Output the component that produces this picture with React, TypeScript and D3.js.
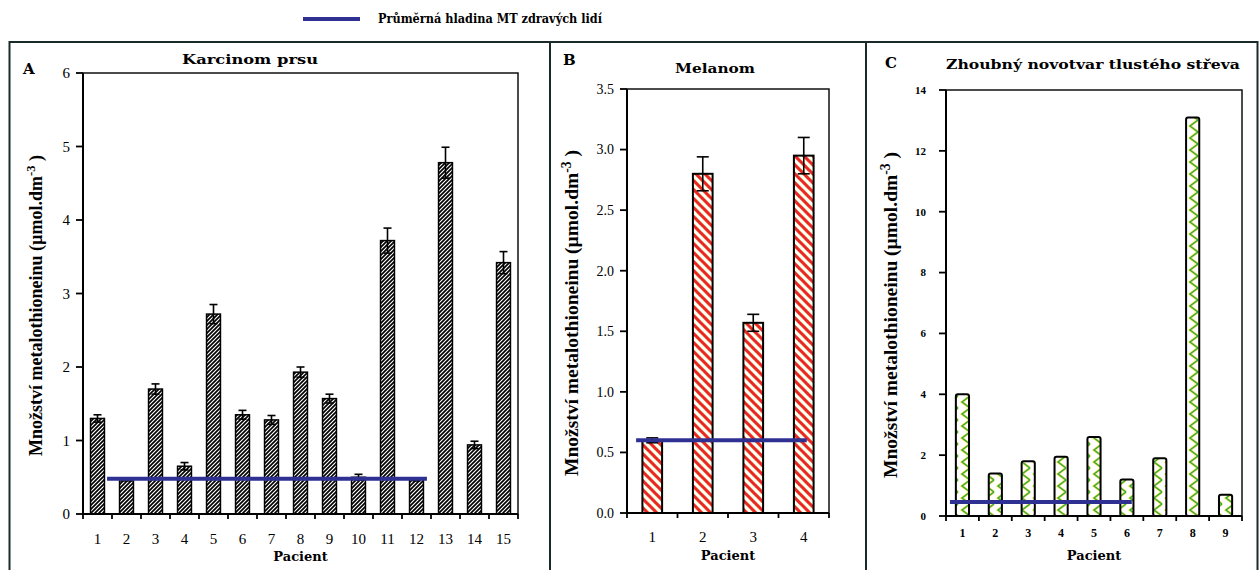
import * as d3 from "d3";

// Panel A – Karcinom prsu
const patientsA = ["1", "2", "3", "4", "5", "6", "7", "8", "9", "10", "11", "12", "13", "14", "15"];
const valuesA = [1.3, 0.45, 1.7, 0.65, 2.72, 1.35, 1.28, 1.93, 1.57, 0.5, 3.72, 0.47, 4.78, 0.94, 3.42];
const errorsA = [0.05, 0.0, 0.07, 0.05, 0.13, 0.06, 0.06, 0.07, 0.06, 0.04, 0.17, 0.02, 0.21, 0.05, 0.15];
const ticksA = [0, 1, 2, 3, 4, 5, 6];
const meanA = 0.48;

// Panel B – Melanom
const patientsB = ["1", "2", "3", "4"];
const valuesB = [0.6, 2.8, 1.57, 2.95];
const errorsB = [0.02, 0.14, 0.07, 0.15];
const ticksB = [0, 0.5, 1, 1.5, 2, 2.5, 3, 3.5];
const meanB = 0.6;

// Panel C – Zhoubný novotvar tlustého střeva
const patientsC = ["1", "2", "3", "4", "5", "6", "7", "8", "9"];
const valuesC = [4.0, 1.4, 1.8, 1.95, 2.6, 1.2, 1.9, 13.1, 0.7];
const ticksC = [0, 2, 4, 6, 8, 10, 12, 14];
const meanC = 0.46;

const SERIF = "'Liberation Serif', 'DejaVu Serif', serif";
const BOLD = "'DejaVu Serif', 'Liberation Serif', serif";
const MEAN_COLOR = "#2e3192";

type PanelProps = {
  letter: string;
  letterX: number;
  letterY: number;
  title: string;
  titleX: number;
  titleY: number;
  titleLen: number;
  cats: string[];
  values: number[];
  errors?: number[];
  ticks: number[];
  tickFmt: (v: number) => string;
  tickSize: number;
  tickGap: number;
  tickBold?: boolean;
  mean: number;
  meanSpan: [number, number];
  left: number;
  right: number;
  top: number;
  bottom: number;
  pad: number;
  fill: string;
  barStroke: number;
  rx: number;
  cap: number;
  labelX: number;
  labelSize: number;
  xLabelY: number;
  pacientY: number;
};

function Panel(p: PanelProps) {
  const x = d3
    .scaleBand()
    .domain(p.cats)
    .range([p.left, p.right])
    .paddingInner(p.pad)
    .paddingOuter(p.pad / 2);
  const y = d3
    .scaleLinear()
    .domain([0, p.ticks[p.ticks.length - 1]])
    .range([p.bottom, p.top]);
  const step = x.step();
  const bounds = d3.range(p.cats.length + 1).map((i) => p.left + i * step);
  const midY = (p.top + p.bottom) / 2 + 12;
  const cx = (p.left + p.right) / 2;

  return (
    <g>
      <text x={p.letterX} y={p.letterY} fontFamily={BOLD} fontWeight="bold" fontSize={15}>
        {p.letter}
      </text>
      <text
        x={p.titleX}
        y={p.titleY}
        textAnchor="middle"
        fontFamily={BOLD}
        fontWeight="bold"
        fontSize={13}
        textLength={p.titleLen}
        lengthAdjust="spacingAndGlyphs"
      >
        {p.title}
      </text>

      {/* plot frame */}
      <rect
        x={p.left}
        y={p.top}
        width={p.right - p.left}
        height={p.bottom - p.top}
        fill="none"
        stroke="#111"
        strokeWidth={1.5}
      />

      {/* bars */}
      {p.cats.map((c, i) => (
        <rect
          key={"b" + c}
          x={x(c)}
          y={y(p.values[i])}
          width={x.bandwidth()}
          height={p.bottom - y(p.values[i])}
          rx={p.rx}
          fill={p.fill}
          stroke="#000"
          strokeWidth={p.barStroke}
        />
      ))}

      {/* error bars */}
      {p.errors &&
        p.cats.map((c, i) => {
          const e = p.errors![i];
          if (!e) return null;
          const mx = (x(c) as number) + x.bandwidth() / 2;
          const y1 = y(p.values[i] + e);
          const y0 = y(p.values[i] - e);
          return (
            <g key={"e" + c} stroke="#000" strokeWidth={1.6}>
              <line x1={mx} x2={mx} y1={y1} y2={y0} />
              <line x1={mx - p.cap / 2} x2={mx + p.cap / 2} y1={y1} y2={y1} />
              <line x1={mx - p.cap / 2} x2={mx + p.cap / 2} y1={y0} y2={y0} />
            </g>
          );
        })}

      {/* axes */}
      <line x1={p.left} x2={p.left} y1={p.top} y2={p.bottom} stroke="#000" strokeWidth={2} />
      <line x1={p.left} x2={p.right} y1={p.bottom} y2={p.bottom} stroke="#000" strokeWidth={2} />
      {p.ticks.map((t) => (
        <g key={"t" + t}>
          <line x1={p.left - 7} x2={p.left} y1={y(t)} y2={y(t)} stroke="#000" strokeWidth={1.8} />
          <text
            x={p.left - p.tickGap}
            y={y(t)}
            dy="0.35em"
            textAnchor="end"
            fontFamily={SERIF}
            fontWeight={p.tickBold ? "bold" : "normal"}
            fontSize={p.tickSize}
          >
            {p.tickFmt(t)}
          </text>
        </g>
      ))}
      {bounds.map((b, i) => (
        <line key={"xt" + i} x1={b} x2={b} y1={p.bottom} y2={p.bottom + 5} stroke="#000" strokeWidth={1.8} />
      ))}
      {p.cats.map((c) => (
        <text
          key={"xl" + c}
          x={(x(c) as number) + x.bandwidth() / 2}
          y={p.xLabelY}
          textAnchor="middle"
          fontFamily={SERIF}
          fontWeight={p.tickBold ? "bold" : "normal"}
          fontSize={p.tickBold ? 12 : 15}
        >
          {c}
        </text>
      ))}

      {/* mean of healthy people */}
      <line
        x1={p.left + p.meanSpan[0] * step}
        x2={p.left + p.meanSpan[1] * step}
        y1={y(p.mean)}
        y2={y(p.mean)}
        stroke={MEAN_COLOR}
        strokeWidth={4}
      />

      <text x={cx} y={p.pacientY} textAnchor="middle" fontFamily={BOLD} fontWeight="bold" fontSize={13}>
        Pacient
      </text>
      <text
        transform={`translate(${p.labelX},${midY}) rotate(-90)`}
        textAnchor="middle"
        fontFamily={SERIF}
        fontWeight="bold"
        fontSize={p.labelSize}
      >
        Množství metalothioneinu (µmol.dm
        <tspan dy={-7} fontSize={p.labelSize * 0.7}>
          -3
        </tspan>
        <tspan dy={7}> )</tspan>
      </text>
    </g>
  );
}

export default function App() {
  return (
    <div style={{ position: "absolute", left: 0, top: 0, background: "#fff" }}>
      <svg width={1260} height={570} style={{ display: "block" }}>
        <defs>
          <pattern id="hatchA" patternUnits="userSpaceOnUse" width={4} height={4}>
            <rect width={4} height={4} fill="#fff" />
            <path d="M-1,1 l2,-2 M0,4 l4,-4 M3,5 l2,-2" stroke="#000" strokeWidth={1.7} />
          </pattern>
          <pattern id="hatchB" patternUnits="userSpaceOnUse" width={9} height={9}>
            <rect width={9} height={9} fill="#fff" />
            <path d="M-1,-1 l11,11 M-1,8 l2,2 M8,-1 l2,2" stroke="#f5e142" strokeWidth={4} opacity={0.6} />
            <path d="M-1,-1 l11,11 M-1,8 l2,2 M8,-1 l2,2" stroke="#e8262b" strokeWidth={3} />
          </pattern>
          <pattern id="zigC" patternUnits="userSpaceOnUse" width={12} height={12}>
            <rect width={12} height={12} fill="#fff" />
            <path d="M10,0 L2,6 L10,12" fill="none" stroke="#f3e23a" strokeWidth={2.6} />
            <path d="M10,0 L2,6 L10,12" fill="none" stroke="#2fa84a" strokeWidth={1.3} />
          </pattern>
        </defs>

        {/* legend */}
        <line x1={303} x2={360} y1={19} y2={19} stroke={MEAN_COLOR} strokeWidth={4} />
        <text
          x={378}
          y={23}
          fontFamily={BOLD}
          fontWeight="bold"
          fontSize={12}
          textLength={224}
          lengthAdjust="spacingAndGlyphs"
        >
          Průměrná hladina MT zdravých lidí
        </text>

        {/* frames */}
        <rect x={9.5} y={42} width={1248} height={540} fill="none" stroke="#1a2a2a" strokeWidth={2} />
        <line x1={550} x2={550} y1={42} y2={572} stroke="#1a2a2a" strokeWidth={2} />
        <line x1={866} x2={866} y1={42} y2={572} stroke="#1a2a2a" strokeWidth={2} />

        <Panel
          letter="A"
          letterX={23}
          letterY={74}
          title="Karcinom prsu"
          titleX={250}
          titleY={64}
          titleLen={136}
          cats={patientsA}
          values={valuesA}
          errors={errorsA}
          ticks={ticksA}
          tickFmt={(v) => String(v)}
          tickSize={15}
          tickGap={13}
          mean={meanA}
          meanSpan={[0.83, 11.86]}
          left={83}
          right={518}
          top={73}
          bottom={514}
          pad={0.52}
          fill="url(#hatchA)"
          barStroke={1.5}
          rx={0}
          cap={8}
          labelX={42}
          labelSize={18}
          xLabelY={544}
          pacientY={561}
        />
        <Panel
          letter="B"
          letterX={563}
          letterY={65}
          title="Melanom"
          titleX={715}
          titleY={73}
          titleLen={80}
          cats={patientsB}
          values={valuesB}
          errors={errorsB}
          ticks={ticksB}
          tickFmt={d3.format(".1f")}
          tickSize={14}
          tickGap={13}
          mean={meanB}
          meanSpan={[0.18, 3.56]}
          left={627}
          right={829}
          top={89}
          bottom={513}
          pad={0.61}
          fill="url(#hatchB)"
          barStroke={2}
          rx={0}
          cap={12}
          labelX={578}
          labelSize={19.5}
          xLabelY={542}
          pacientY={560}
        />
        <Panel
          letter="C"
          letterX={885}
          letterY={68}
          title="Zhoubný novotvar tlustého střeva"
          titleX={1093}
          titleY={69}
          titleLen={294}
          cats={patientsC}
          values={valuesC}
          ticks={ticksC}
          tickFmt={(v) => String(v)}
          tickSize={11}
          tickGap={20}
          tickBold
          mean={meanC}
          meanSpan={[0.12, 5.65]}
          left={946}
          right={1242}
          top={90}
          bottom={516}
          pad={0.6}
          fill="url(#zigC)"
          barStroke={2}
          rx={2}
          cap={0}
          labelX={897}
          labelSize={19.5}
          xLabelY={537}
          pacientY={560}
        />
      </svg>
    </div>
  );
}
